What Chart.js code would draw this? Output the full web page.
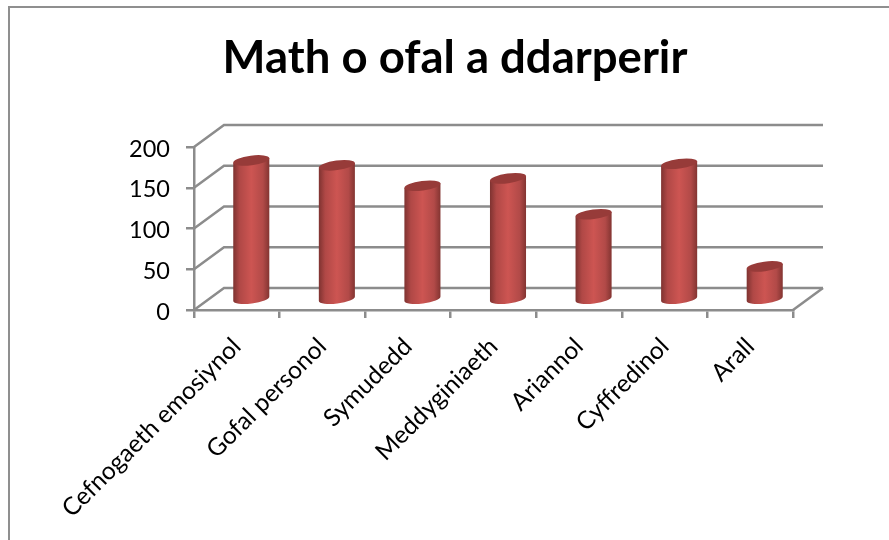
<!DOCTYPE html>
<html>
<head>
<meta charset="utf-8">
<script src="https://cdn.jsdelivr.net/npm/chart.js@4"></script>
<style>
  html, body { margin: 0; padding: 0; background: #fff; overflow: hidden; }
  canvas { display: block; }
</style>
</head>
<body>
<canvas id="care-chart" width="889" height="540"></canvas>
<script>
const categories = ['Cefnogaeth emosiynol', 'Gofal personol', 'Symudedd', 'Meddyginiaeth', 'Ariannol', 'Cyffredinol', 'Arall'];
const careValues = [170, 164, 139, 148, 104, 166, 40];
const yTicks = [0, 50, 100, 150, 200];

const lineGrey = '#8c8c8c';
// how far the back wall sits behind the front axes
const depthX = 30;
const depthY = 22;

const depthBox = {
    id: 'depthBox',
    beforeDraw(chart) {
        // only the top and left of the outer frame are in the picture
        const ctx = chart.ctx;
        ctx.save();
        ctx.strokeStyle = '#8f8f8f';
        ctx.lineWidth = 2;
        ctx.beginPath();
        ctx.moveTo(9, 540);
        ctx.lineTo(9, 7);
        ctx.lineTo(889, 7);
        ctx.stroke();
        ctx.restore();
    },
    beforeDatasetsDraw(chart) {
        const ctx = chart.ctx;
        const area = chart.chartArea;
        const y = chart.scales.y;
        ctx.save();
        ctx.strokeStyle = lineGrey;
        ctx.lineWidth = 2.5;
        yTicks.forEach(function(t) {
            const py = y.getPixelForValue(t);
            ctx.beginPath();
            ctx.moveTo(area.left, py);
            ctx.lineTo(area.left + depthX, py - depthY);
            ctx.lineTo(area.right + depthX, py - depthY);
            ctx.stroke();
        });
        // floor edge on the right
        const base = y.getPixelForValue(0);
        ctx.beginPath();
        ctx.moveTo(area.right, base);
        ctx.lineTo(area.right + depthX, base - depthY);
        ctx.stroke();
        ctx.restore();
    },
    beforeDatasetDraw(chart, args) {
        const ctx = chart.ctx;
        const meta = chart.getDatasetMeta(args.index);
        meta.data.forEach(function(bar) {
            drawCylinder(ctx, bar.x + depthX / 2 - 0.5, bar.y - depthY / 2, bar.base - depthY / 2 + 1, bar.width);
        });
        return false;
    }
};

function drawCylinder(ctx, cx, top, bottom, width) {
    const rx = width / 2;
    const ry = 4.8;
    const tilt = -0.13;
    const dx = rx * Math.cos(tilt);
    const dy = rx * Math.sin(tilt);
    const grad = ctx.createLinearGradient(cx - rx, 0, cx + rx, 0);
    grad.addColorStop(0, '#7d3230');
    grad.addColorStop(0.18, '#b04846');
    grad.addColorStop(0.5, '#cd5552');
    grad.addColorStop(0.82, '#b24a48');
    grad.addColorStop(1, '#823431');

    ctx.save();
    ctx.fillStyle = grad;
    ctx.beginPath();
    ctx.moveTo(cx - dx, top - dy);
    ctx.lineTo(cx - dx, bottom - dy);
    ctx.ellipse(cx, bottom, rx, ry, tilt, Math.PI, 0, true);
    ctx.lineTo(cx + dx, top + dy);
    ctx.closePath();
    ctx.fill();

    ctx.fillStyle = '#973b39';
    ctx.beginPath();
    ctx.ellipse(cx, top, rx, ry, tilt, 0, Math.PI * 2);
    ctx.fill();
    ctx.restore();
}

new Chart(document.getElementById('care-chart'), {
    type: 'bar',
    data: {
        labels: categories,
        datasets: [{
            label: 'Math o ofal a ddarperir',
            data: careValues,
            backgroundColor: '#c0504d',
            categoryPercentage: 1,
            barPercentage: 0.425
        }]
    },
    options: {
        responsive: false,
        animation: false,
        layout: { padding: { left: 117, right: 96, top: 0, bottom: 0 } },
        plugins: {
            legend: { display: false },
            tooltip: { enabled: false },
            title: {
                display: true,
                text: 'Math o ofal a ddarperir',
                color: '#000',
                font: { family: 'Lato', size: 45.5, weight: 'bold', lineHeight: 1.2 },
                padding: { top: 31, bottom: 61.4 }
            }
        },
        scales: {
            x: {
                afterFit(scale) { scale.height = 230; },
                grid: { drawOnChartArea: false, color: lineGrey, lineWidth: 2.5, tickLength: 8 },
                border: { color: lineGrey, width: 2.5 },
                ticks: { color: '#000', font: { family: 'Lato', size: 24.5 }, minRotation: 45, maxRotation: 45, padding: 14, labelOffset: 0, autoSkip: false }
            },
            y: {
                min: 0,
                max: 200,
                afterFit(scale) { scale.width = 77; },
                grid: { drawOnChartArea: false, color: lineGrey, lineWidth: 2.5, tickLength: 8 },
                border: { color: lineGrey, width: 2.5 },
                ticks: { color: '#000', font: { family: 'Lato', size: 23.5 }, stepSize: 50, padding: 16, labelOffset: 2 }
            }
        }
    },
    plugins: [depthBox]
});
</script>
</body>
</html>
